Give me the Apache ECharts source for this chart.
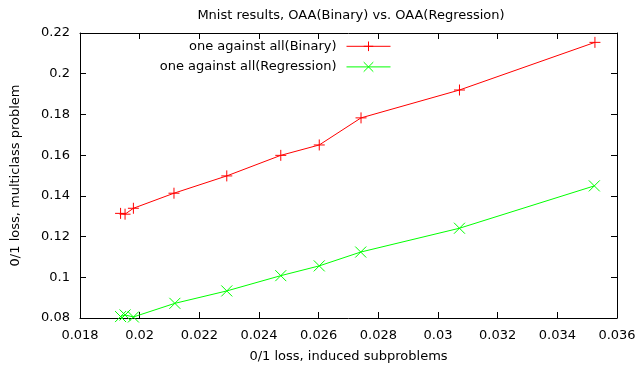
<!DOCTYPE html>
<html>
<head>
<meta charset="UTF-8">
<script src="https://cdn.jsdelivr.net/npm/echarts@6/dist/echarts.min.js"></script>
</head>
<body style="margin:0; background:#ffffff">
<div id="paint" style="width:640px; height:370px;"></div>
<script>
// values
var xBinary = [0.01936, 0.01951, 0.01979, 0.02115, 0.02292, 0.02473, 0.02602, 0.02742, 0.03072, 0.03526];
var yBinary = [0.1314, 0.1310, 0.1339, 0.1413, 0.1498, 0.1599, 0.1650, 0.1783, 0.1920, 0.2154];
var xRegression = [0.01936, 0.01951, 0.01979, 0.02118, 0.02292, 0.02473, 0.02602, 0.02741, 0.03072, 0.03524];
var yRegression = [0.0807, 0.0815, 0.0805, 0.0872, 0.0933, 0.1008, 0.1056, 0.1124, 0.1241, 0.1449];
var seriesNames = ['one against all(Binary)', 'one against all(Regression)'];

function pairs(xs, ys) {
    var out = [];
    for (var i = 0; i < xs.length; i++) out.push([xs[i], ys[i]]);
    return out;
}

var font = 'DejaVu Sans';
var fs = 13;
var axisColor = '#000000';
var tick = {show: true, inside: true, length: 6, lineStyle: {color: axisColor}};

function xAxisDef(pos, labels) {
    return {
        type: 'value', position: pos, min: 0.018, max: 0.036, interval: 0.002,
        name: labels ? '0/1 loss, induced subproblems' : '',
        nameLocation: 'middle', nameGap: 32,
        nameTextStyle: {fontFamily: font, fontSize: fs, color: '#000'},
        axisLine: {show: true, onZero: false, lineStyle: {color: axisColor}},
        axisTick: tick,
        axisLabel: {show: labels, margin: 11, fontFamily: font, fontSize: fs, color: '#000'},
        splitLine: {show: false}
    };
}
function yAxisDef(pos, labels) {
    return {
        type: 'value', position: pos, min: 0.08, max: 0.22, interval: 0.02,
        name: labels ? '0/1 loss, multiclass problem' : '',
        nameLocation: 'middle', nameGap: 58,
        nameTextStyle: {fontFamily: font, fontSize: fs, color: '#000'},
        axisLine: {show: true, onZero: false, lineStyle: {color: axisColor}},
        axisTick: tick,
        axisLabel: {show: labels, margin: 10, fontFamily: font, fontSize: fs, color: '#000'},
        splitLine: {show: false}
    };
}

echarts.init(document.getElementById('paint')).setOption({
    backgroundColor: '#ffffff',
    animation: false,
    title: {
        text: 'Mnist results, OAA(Binary) vs. OAA(Regression)',
        left: 346, top: 4, textAlign: 'center',
        textStyle: {fontFamily: font, fontSize: fs, fontWeight: 'normal', color: '#000'}
    },
    legend: {
        orient: 'vertical', right: 249, top: 39, padding: 0,
        align: 'right', itemWidth: 44, itemHeight: 12, itemGap: 6,
        lineStyle: {width: 1},
        itemStyle: {borderWidth: 1},
        textStyle: {fontFamily: font, fontSize: fs, color: '#000', padding: [0, 5, 0, 0]},
        data: seriesNames
    },
    grid: {left: 80, right: 23, top: 33, bottom: 52},
    xAxis: [xAxisDef('bottom', true), xAxisDef('top', false)],
    yAxis: [yAxisDef('left', true), yAxisDef('right', false)],
    series: [
        {
            name: seriesNames[0], type: 'line', data: pairs(xBinary, yBinary),
            symbol: 'path://M0,5L10,5M5,0L5,10', symbolSize: 11,
            color: '#ff0000',
            lineStyle: {width: 1, color: '#ff0000'},
            itemStyle: {color: 'none', borderColor: '#ff0000', borderWidth: 1}
        },
        {
            name: seriesNames[1], type: 'line', data: pairs(xRegression, yRegression),
            symbol: 'path://M0,0L10,10M10,0L0,10', symbolSize: 11,
            color: '#00ff00',
            lineStyle: {width: 1, color: '#00ff00'},
            itemStyle: {color: 'none', borderColor: '#00ff00', borderWidth: 1}
        }
    ]
});
</script>
</body>
</html>
